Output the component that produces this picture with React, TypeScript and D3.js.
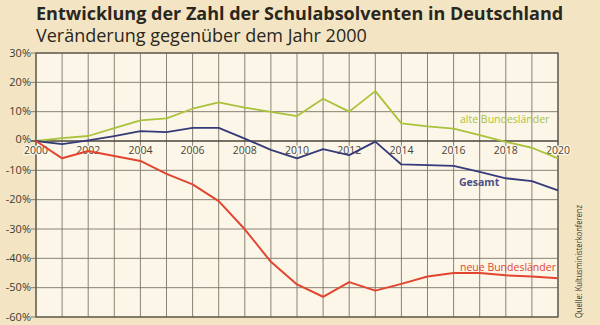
import React from "react";
import * as d3 from "d3";

const years = d3.range(2000, 2021);
const alte = [0, 1, 1.7, 4.4, 7, 7.7, 11, 13.2, 11.4, 9.9, 8.5, 14.4, 10, 17, 6, 5, 4.2, 2, -0.3, -2.3, -5.9];
const gesamt = [0, -1.1, 0.2, 1.7, 3.4, 3, 4.5, 4.5, 0.8, -3, -5.9, -2.8, -4.8, -0.2, -8, -8.2, -8.5, -10.5, -12.7, -13.7, -16.8];
const neue = [0, -5.9, -3.4, -5.1, -6.8, -11.2, -14.8, -20.5, -30.1, -41.2, -48.9, -53.1, -48.1, -51, -48.7, -46.2, -45, -45, -45.8, -46.2, -46.8];
const yTicks = [30, 20, 10, 0, -10, -20, -30, -40, -50, -60];
const xLabelYears = [2000, 2002, 2004, 2006, 2008, 2010, 2012, 2014, 2016, 2018, 2020];

const title = "Entwicklung der Zahl der Schulabsolventen in Deutschland";
const subtitle = "Veränderung gegenüber dem Jahr 2000";
const source = "Quelle: Kultusministerkonferenz";

const GREEN = "#a9c23a";
const BLUE = "#353a78";
const RED = "#e2452f";

export default function App() {
  const W = 600, H = 325;
  const x = d3.scaleLinear().domain([2000, 2020]).range([36, 558]);
  const y = d3.scaleLinear().domain([30, -60]).range([53, 317]);
  const line = (vals: number[]) =>
    d3.line<number>().x((_, i) => x(years[i])).y((d) => y(d))(vals) || "";
  const font = "'Open Sans', 'DejaVu Sans', sans-serif";
  return (
    <svg width={W} height={H} style={{ position: "absolute", left: 0, top: 0 }} fontFamily={font}>
      <rect x={0} y={0} width={W} height={H} fill="#f3e5c3" />
      <rect x={x(2000)} y={y(30)} width={x(2020) - x(2000)} height={y(-60) - y(30)} fill="#fcf6e9" />
      {years.map((yr) => (
        <line key={"v" + yr} x1={x(yr)} x2={x(yr)} y1={y(30)} y2={y(-60)} stroke="#7d7566" strokeWidth={0.9} />
      ))}
      {yTicks.map((t) => (
        <line key={"h" + t} x1={x(2000) - 5} x2={x(2020)} y1={y(t)} y2={y(t)} stroke={t === 0 ? "#4a4438" : "#7d7566"} strokeWidth={t === 0 ? 1.6 : 0.9} />
      ))}
      <rect x={x(2000)} y={y(30)} width={x(2020) - x(2000)} height={y(-60) - y(30)} fill="none" stroke="#5a5346" strokeWidth={1.2} />
      {yTicks.map((t) => (
        <text key={"yl" + t} x={31} y={y(t) + (t === 0 ? 2 : 3.5)} textAnchor="end" fontSize={11} fill="#3f3a30">
          {t + "%"}
        </text>
      ))}
      {xLabelYears.map((yr) => (
        <text key={"xl" + yr} x={x(yr)} y={y(0) + 13} textAnchor="middle" fontSize={10.5} fill="#4a4438" stroke="#fcf6e9" strokeWidth={2.5} paintOrder="stroke">
          {yr}
        </text>
      ))}
      <path d={line(alte)} fill="none" stroke={GREEN} strokeWidth={1.8} strokeLinejoin="round" />
      <path d={line(gesamt)} fill="none" stroke={BLUE} strokeWidth={1.8} strokeLinejoin="round" />
      <path d={line(neue)} fill="none" stroke={RED} strokeWidth={2} strokeLinejoin="round" />
      <text x={460} y={y(6.3)} fontSize={10.5} fill={GREEN}>alte Bundesländer</text>
      <text x={459} y={y(-15.5)} fontSize={10.5} fontWeight="bold" fill="#4a4f88">Gesamt</text>
      <text x={460} y={y(-44.2)} fontSize={10.5} fill={RED}>neue Bundesländer</text>
      <text x={36} y={20} fontSize={18} fontWeight="bold" fill="#2a2620">{title}</text>
      <text x={36} y={42} fontSize={18} fill="#2a2620">{subtitle}</text>
      <text transform={`translate(582,318) rotate(-90)`} fontSize={8.5} textLength={113} lengthAdjust="spacingAndGlyphs" fill="#3f3a30">{source}</text>
    </svg>
  );
}
